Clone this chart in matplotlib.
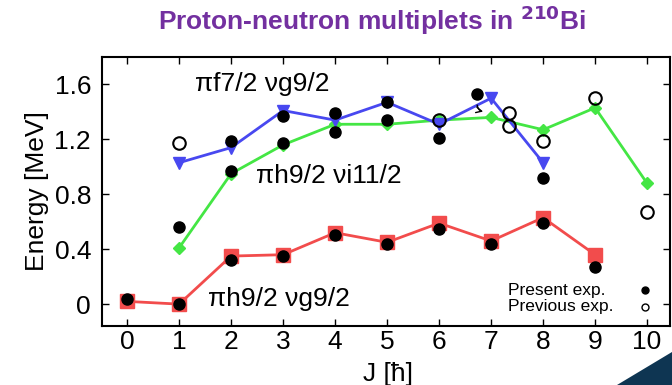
import matplotlib
matplotlib.use('Agg')
from matplotlib import pyplot as plt
from matplotlib.patches import Polygon

plt.rcParams['font.family'] = ['Liberation Sans', 'DejaVu Sans']

# calculated multiplets
j_red = [0, 1, 2, 3, 4, 5, 6, 7, 8, 9]
e_red = [0.02, 0.0, 0.35, 0.36, 0.52, 0.45, 0.59, 0.46, 0.63, 0.36]
j_green = [1, 2, 3, 4, 5, 6, 7, 8, 9, 10]
e_green = [0.41, 0.95, 1.16, 1.31, 1.31, 1.34, 1.36, 1.27, 1.43, 0.88]
j_blue = [1, 2, 3, 4, 5, 6, 7, 8]
e_blue = [1.03, 1.14, 1.41, 1.34, 1.47, 1.31, 1.50, 1.03]

# present experiment
j_now = [0, 1, 2, 3, 4, 5, 6, 7, 8, 9,
         1, 2, 3, 4, 5, 6, 8,
         2, 3, 4, 5, 6.73]
e_now = [0.04, 0.0, 0.32, 0.35, 0.50, 0.44, 0.55, 0.44, 0.59, 0.27,
         0.56, 0.97, 1.17, 1.25, 1.34, 1.21, 0.92,
         1.19, 1.37, 1.39, 1.47, 1.53]

# previous experiment
j_old = [1, 6, 7.35, 7.35, 8, 9, 10]
e_old = [1.17, 1.34, 1.39, 1.30, 1.19, 1.50, 0.67]

fig = plt.figure(figsize=(6.72, 3.85), dpi=100)
ax = fig.add_axes([0.152, 0.153, 0.845, 0.699])

ax.plot(j_red, e_red, c='#f24c4c', lw=2, marker='s', ms=10, mec='#f24c4c', zorder=2)
ax.plot(j_green, e_green, c='#44e644', lw=2, marker='D', ms=6.5, zorder=2)
ax.plot(j_blue, e_blue, c='#4848f0', lw=2, marker='v', ms=8.5, zorder=2)
ax.plot(j_now, e_now, 'o', c='black', ms=8, zorder=3)
ax.plot(j_old, e_old, 'o', mfc='none', mec='black', mew=1.5, ms=9, zorder=3)

ax.annotate('', xy=(6.9, 1.40), xytext=(6.73, 1.47),
            arrowprops=dict(arrowstyle='->', color='black', lw=1,
                            connectionstyle='arc3,rad=0.5'))

ax.text(1.31, 1.60, 'πf7/2 νg9/2', fontsize=19, va='center')
ax.text(2.48, 0.93, 'πh9/2 νi11/2', fontsize=19, va='center')
ax.text(1.56, 0.04, 'πh9/2 νg9/2', fontsize=19, va='center')

# legend
ax.text(7.33, 0.10, 'Present exp.', fontsize=12.5, va='center')
ax.text(7.33, -0.02, 'Previous exp.', fontsize=12.5, va='center')
ax.plot([9.96], [0.10], 'o', c='black', ms=5)
ax.plot([9.96], [-0.02], 'o', mfc='none', mec='black', mew=1, ms=5)

ax.set_xlim(-0.48, 10.44)
ax.set_ylim(-0.16, 1.8)
ax.set_xticks(range(11))
ax.set_yticks([0, 0.4, 0.8, 1.2, 1.6])
ax.set_yticklabels(['0', '0.4', '0.8', '1.2', '1.6'])
ax.tick_params(axis='both', direction='in', top=True, right=True,
               labelsize=19, length=5, width=1)
ax.tick_params(axis='x', pad=3)
ax.tick_params(axis='y', pad=8)
for s in ax.spines.values():
    s.set_linewidth(1.5)
ax.set_xlabel('J [ħ]', fontsize=19)
ax.xaxis.set_label_coords(0.503, -0.135)
ax.set_ylabel('Energy [MeV]', fontsize=19, labelpad=4)

fig.text(0.554, 0.948, 'Proton-neutron multiplets in $^{\\mathbf{210}}$Bi',
         fontsize=19, fontweight='bold', color='#7330a0', ha='center', va='center')

# corner decoration of the slide
fig.patches.append(Polygon([[0.918, 0.0], [1.0, 0.0], [1.0, 0.086]], closed=True,
                           transform=fig.transFigure, fc='#0e3552', ec='none'))

fig.savefig('out.png', dpi=100)
